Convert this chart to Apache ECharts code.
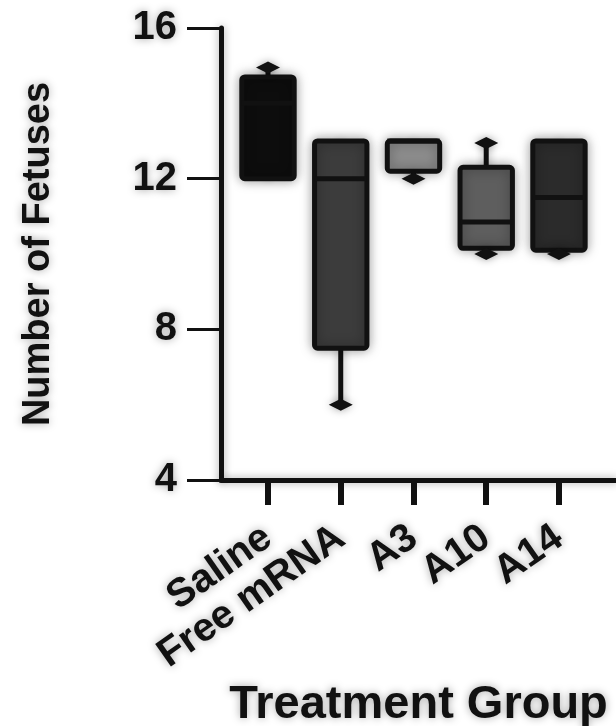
<!DOCTYPE html>
<html>
<head>
<meta charset="utf-8">
<script src="https://cdn.jsdelivr.net/npm/echarts@6/dist/echarts.min.js"></script>
<style>
    html, body { margin: 0; padding: 0; background: #fff; }
    #box-chart { width: 616px; height: 726px; }
</style>
</head>
<body>
<div id="box-chart"></div>
<script>
    // groups and five-number summaries
    const categories = ['Saline', 'Free mRNA', 'A3', 'A10', 'A14'];
    const minVals = [12, 6, 12, 10, 10];
    const q1Vals = [12, 7.5, 12.2, 10.15, 10.1];
    const medianVals = [14, 12, 13, 10.85, 11.5];
    const q3Vals = [14.7, 13, 13, 12.3, 13];
    const maxVals = [14.95, 13, 13, 12.95, 13];
    const yTicks = [4, 8, 12, 16];

    const boxFill = ['#0d0d0d', '#3c3c3c', '#8c8c8c', '#5e5e5e', '#2b2b2b'];
    const ink = '#111';
    const halo = 'rgba(0,0,0,0.35)';

    let seriesData = categories.map((c, i) => [i, minVals[i], q1Vals[i], medianVals[i], q3Vals[i], maxVals[i]]);

    function renderBox(params, api) {
        let x = api.value(0);
        let pMin = api.coord([x, api.value(1)]);
        let pQ1 = api.coord([x, api.value(2)]);
        let pMed = api.coord([x, api.value(3)]);
        let pQ3 = api.coord([x, api.value(4)]);
        let pMax = api.coord([x, api.value(5)]);
        let w = api.size([0.72, 0])[0];
        let cx = pQ1[0];
        let children = [
            {
                type: 'line',
                shape: { x1: cx, y1: pMax[1], x2: cx, y2: pMin[1] },
                style: { stroke: ink, lineWidth: 5, shadowBlur: 10, shadowColor: halo }
            },
            {
                type: 'rect',
                shape: { x: cx - w / 2, y: pQ3[1], width: w, height: pQ1[1] - pQ3[1], r: 3 },
                style: { fill: boxFill[params.dataIndex], stroke: ink, lineWidth: 5, shadowBlur: 12, shadowColor: halo }
            },
            {
                type: 'line',
                shape: { x1: cx - w / 2, y1: pMed[1], x2: cx + w / 2, y2: pMed[1] },
                style: { stroke: ink, lineWidth: 5 }
            }
        ];
        // whisker end caps (diamond-like dots)
        [[pMax, pQ3], [pMin, pQ1]].forEach(function (pair) {
            let p = pair[0];
            if (Math.abs(p[1] - pair[1][1]) > 1) {
                children.push({
                    type: 'polygon',
                    shape: { points: [[cx - 12, p[1]], [cx, p[1] - 6], [cx + 12, p[1]], [cx, p[1] + 6]] },
                    style: { fill: ink, shadowBlur: 8, shadowColor: halo }
                });
            }
        });
        return { type: 'group', children: children };
    }

    let myChart = echarts.init(document.getElementById('box-chart'));

    let option = {
        animation: false,
        grid: { left: 221, right: 0, top: 28, bottom: 246, outerBoundsMode: 'none', containLabel: false },
        xAxis: {
            type: 'value',
            min: -0.646,
            max: 4.784,
            name: 'Treatment Group',
            nameLocation: 'middle',
            nameGap: 198,
            nameTextStyle: {
                fontFamily: 'Liberation Sans', fontWeight: 'bold', fontSize: 47, color: ink,
                textShadowColor: halo, textShadowBlur: 8
            },
            splitLine: { show: false },
            axisLine: { show: true, onZero: false, lineStyle: { color: ink, width: 5, shadowBlur: 8, shadowColor: halo } },
            axisTick: {
                show: true, customValues: categories.map((c, i) => i),
                length: 25, lineStyle: { color: ink, width: 6 }
            },
            axisLabel: {
                customValues: categories.map((c, i) => i),
                formatter: v => categories[Math.round(v)],
                rotate: 35,
                margin: 54,
                fontFamily: 'Liberation Sans', fontWeight: 'bold', fontSize: 40, color: ink,
                textShadowColor: halo, textShadowBlur: 8
            }
        },
        yAxis: {
            type: 'value',
            min: 4,
            max: 16,
            interval: 4,
            name: 'Number of Fetuses',
            nameLocation: 'middle',
            nameGap: 163,
            nameRotate: 90,
            nameTextStyle: {
                fontFamily: 'Liberation Sans', fontWeight: 'bold', fontSize: 38, color: ink,
                textShadowColor: halo, textShadowBlur: 8
            },
            splitLine: { show: false },
            axisLine: { show: true, onZero: false, lineStyle: { color: ink, width: 5, shadowBlur: 8, shadowColor: halo } },
            axisTick: { show: true, length: 34, lineStyle: { color: ink, width: 3 } },
            axisLabel: {
                customValues: yTicks,
                margin: 44,
                fontFamily: 'Liberation Sans', fontWeight: 'bold', fontSize: 40, color: ink,
                textShadowColor: halo, textShadowBlur: 8
            }
        },
        series: [
            {
                type: 'custom',
                renderItem: renderBox,
                encode: { x: 0, y: [1, 2, 3, 4, 5] },
                data: seriesData,
                z: 3
            }
        ]
    };

    myChart.setOption(option, true);
</script>
</body>
</html>
